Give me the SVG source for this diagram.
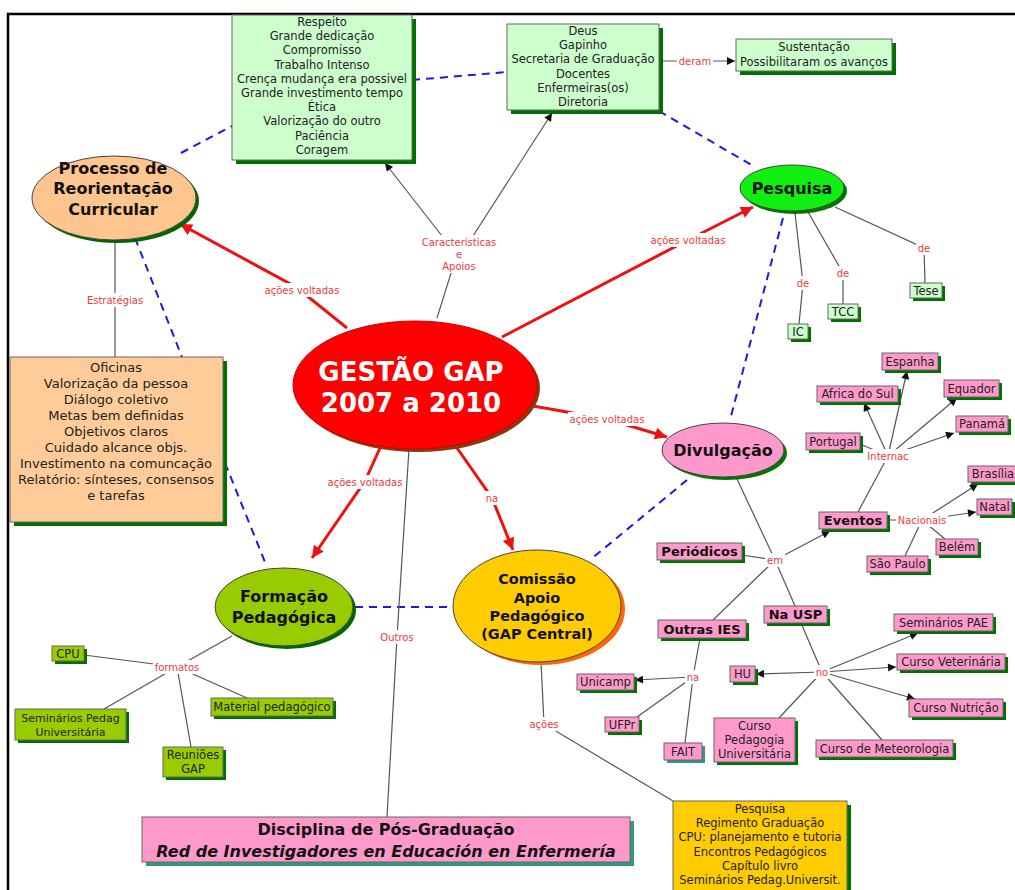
<svg xmlns="http://www.w3.org/2000/svg" width="1015" height="890" viewBox="0 0 1015 890">
<defs>
<style>
.t{font-family:"DejaVu Sans",Verdana,sans-serif;font-size:11.5px;fill:#222;text-anchor:middle;dominant-baseline:central}
.b{font-weight:bold;font-size:13px;fill:#111}
.e{font-weight:bold;font-size:16px;fill:#111}
.l{font-family:"DejaVu Sans",Verdana,sans-serif;font-size:10px;fill:#f03a3a;text-anchor:middle;dominant-baseline:central}
.k{stroke:#555;stroke-width:1.2;fill:none}
.r{stroke:#ee1111;stroke-width:3;fill:none}
.d{stroke:#1a1ae6;stroke-width:2;stroke-dasharray:8,6;fill:none}
.bg{fill:#fff}
.lg{fill:#ccffcc;stroke:#666;stroke-width:1}
.pk{fill:#ff99cc;stroke:#666;stroke-width:1}
.pe{fill:#ffcc99;stroke:#666;stroke-width:1}
.ol{fill:#99cc00;stroke:#666;stroke-width:1}
.go{fill:#ffcc00;stroke:#666;stroke-width:1}
.sg{fill:#007000}
.st{fill:#33997a}
</style>
<marker id="ab" viewBox="0 0 10 10" refX="10" refY="5" markerWidth="10" markerHeight="8" markerUnits="userSpaceOnUse" orient="auto"><path d="M0,0 L10,5 L0,10 z" fill="#111"/></marker>
<marker id="ar" viewBox="0 0 10 10" refX="10" refY="5" markerWidth="15" markerHeight="12" markerUnits="userSpaceOnUse" orient="auto"><path d="M0,0 L10,5 L0,10 z" fill="#ee1111"/></marker>
</defs>
<rect width="1015" height="890" fill="#fff"/>
<path d="M8,890 L8,14 L1015,14" stroke="#000" stroke-width="2.5" fill="none"/>

<g id="connectors">
<path class="d" d="M181,153 L232,126"/>
<path class="d" d="M412,80 L507,72"/>
<path class="d" d="M659,111 L755,167"/>
<path class="d" d="M783,218 L730,420"/>
<path class="d" d="M687,480 L590,560"/>
<path class="d" d="M355,607 L453,607"/>
<path class="d" d="M135,238 L182,357"/>
<path class="d" d="M225,463 L267,567"/>

<path class="r" d="M347,328 L296,287 L180,224" marker-end="url(#ar)"/>
<path class="r" d="M502,337 L688,240 L753,207" marker-end="url(#ar)"/>
<path class="r" d="M533,406 L607,419 L667,437" marker-end="url(#ar)"/>
<path class="r" d="M380,448 L365,481 L312,558" marker-end="url(#ar)"/>
<path class="r" d="M457,448 L492,498 L513,550" marker-end="url(#ar)"/>

<path class="k" d="M437,318 L452,270"/>
<path class="k" d="M442,236 L385,163" marker-end="url(#ab)"/>
<path class="k" d="M473,236 L552,113" marker-end="url(#ab)"/>
<path class="k" d="M659,61 L735,61" marker-end="url(#ab)"/>
<path class="k" d="M115,240 L115,357"/>
<path class="k" d="M795,213 L803,283 L799,324"/>
<path class="k" d="M808,212 L843,273 L843,304"/>
<path class="k" d="M835,207 L924,248 L925,283"/>
<path class="k" d="M737,479 L775,560 L795,606"/>
<path class="k" d="M742,555 L775,560"/>
<path class="k" d="M775,560 L830,531" marker-end="url(#ab)"/>
<path class="k" d="M775,560 L713,620"/>
<path class="k" d="M858,512 L888,456"/>
<path class="k" d="M860,444 L888,456"/>
<path class="k" d="M888,456 L864,403" marker-end="url(#ab)"/>
<path class="k" d="M888,456 L907,371" marker-end="url(#ab)"/>
<path class="k" d="M888,456 L957,398" marker-end="url(#ab)"/>
<path class="k" d="M888,456 L954,433" marker-end="url(#ab)"/>
<path class="k" d="M887,520 L922,520"/>
<path class="k" d="M922,520 L978,484" marker-end="url(#ab)"/>
<path class="k" d="M922,520 L976,512" marker-end="url(#ab)"/>
<path class="k" d="M922,520 L945,539"/>
<path class="k" d="M922,520 L905,556"/>
<path class="k" d="M700,638 L693,677 L685,743"/>
<path class="k" d="M693,677 L635,680" marker-end="url(#ab)"/>
<path class="k" d="M693,677 L637,717"/>
<path class="k" d="M801,623 L822,672"/>
<path class="k" d="M822,672 L918,633" marker-end="url(#ab)"/>
<path class="k" d="M822,672 L896,667" marker-end="url(#ab)"/>
<path class="k" d="M822,672 L915,699" marker-end="url(#ab)"/>
<path class="k" d="M822,672 L756,674" marker-end="url(#ab)"/>
<path class="k" d="M822,672 L779,718"/>
<path class="k" d="M822,672 L882,740"/>
<path class="k" d="M541,662 L544,724 L673,801"/>
<path class="k" d="M409,449 L397,637 L387,817"/>
<path class="k" d="M232,636 L177,667"/>
<path class="k" d="M84,655 L177,667"/>
<path class="k" d="M177,667 L104,709"/>
<path class="k" d="M177,667 L191,747"/>
<path class="k" d="M177,667 L247,698"/>

<rect class="bg" x="263" y="283" width="78" height="14"/><text class="l" x="302" y="290">ações voltadas</text>
<rect class="bg" x="649" y="233" width="78" height="14"/><text class="l" x="688" y="240">ações voltadas</text>
<rect class="bg" x="568" y="412" width="78" height="14"/><text class="l" x="607" y="419">ações voltadas</text>
<rect class="bg" x="326" y="475" width="78" height="14"/><text class="l" x="365" y="482">ações voltadas</text>
<rect class="bg" x="484" y="491" width="16" height="14"/><text class="l" x="492" y="498">na</text>
<rect class="bg" x="420" y="235" width="78" height="38"/><text class="l" x="459" y="242">Características</text><text class="l" x="459" y="254">e</text><text class="l" x="459" y="266">Apoios</text>
<rect class="bg" x="677" y="54" width="36" height="14"/><text class="l" x="695" y="61">deram</text>
<rect class="bg" x="85" y="293" width="60" height="14"/><text class="l" x="115" y="300">Estratégias</text>
<rect class="bg" x="795" y="276" width="16" height="14"/><text class="l" x="803" y="283">de</text>
<rect class="bg" x="835" y="266" width="16" height="14"/><text class="l" x="843" y="273">de</text>
<rect class="bg" x="916" y="241" width="16" height="14"/><text class="l" x="924" y="248">de</text>
<rect class="bg" x="765" y="553" width="20" height="14"/><text class="l" x="775" y="560">em</text>
<rect class="bg" x="865" y="449" width="46" height="14"/><text class="l" x="888" y="456">Internac</text>
<rect class="bg" x="896" y="513" width="52" height="14"/><text class="l" x="922" y="520">Nacionais</text>
<rect class="bg" x="685" y="670" width="16" height="14"/><text class="l" x="693" y="677">na</text>
<rect class="bg" x="814" y="665" width="16" height="14"/><text class="l" x="822" y="672">no</text>
<rect class="bg" x="528" y="717" width="32" height="14"/><text class="l" x="544" y="724">ações</text>
<rect class="bg" x="378" y="630" width="38" height="14"/><text class="l" x="397" y="637">Outros</text>
<rect class="bg" x="153" y="660" width="48" height="14"/><text class="l" x="177" y="667">formatos</text>
</g>

<g id="n-valores">
<rect class="sg" x="236" y="19" width="180" height="145"/>
<rect class="lg" x="232" y="15" width="180" height="145"/>
<text class="t" x="322" y="22">Respeito</text>
<text class="t" x="322" y="36.2">Grande dedicação</text>
<text class="t" x="322" y="50.4">Compromisso</text>
<text class="t" x="322" y="64.6">Trabalho Intenso</text>
<text class="t" x="322" y="78.8">Crença mudança era possivel</text>
<text class="t" x="322" y="93">Grande investimento tempo</text>
<text class="t" x="322" y="107.2">Ética</text>
<text class="t" x="322" y="121.4">Valorização do outro</text>
<text class="t" x="322" y="135.6">Paciência</text>
<text class="t" x="322" y="149.8">Coragem</text>
</g>

<g id="n-apoios">
<rect class="sg" x="511" y="28" width="152" height="86"/>
<rect class="lg" x="507" y="24" width="152" height="86"/>
<text class="t" x="583" y="31">Deus</text>
<text class="t" x="583" y="45.2">Gapinho</text>
<text class="t" x="583" y="59.4">Secretaria de Graduação</text>
<text class="t" x="583" y="73.6">Docentes</text>
<text class="t" x="583" y="87.8">Enfermeiras(os)</text>
<text class="t" x="583" y="102">Diretoria</text>
</g>

<g id="n-sustentacao">
<rect class="sg" x="740" y="43" width="156" height="32"/>
<rect class="lg" x="736" y="39" width="156" height="32"/>
<text class="t" x="814" y="47">Sustentação</text>
<text class="t" x="814" y="62">Possibilitaram os avanços</text>
</g>

<g id="n-pesquisa">
<ellipse cx="795" cy="191" rx="52" ry="23" fill="#007700"/>
<ellipse cx="792" cy="188" rx="52" ry="23" fill="#11ee11" stroke="#444" stroke-width="1"/>
<text class="t e" x="792" y="188">Pesquisa</text>
</g>

<g id="n-processo">
<ellipse cx="117" cy="201" rx="82" ry="42" fill="#006600"/>
<ellipse cx="114" cy="198" rx="82" ry="42" fill="#ffc58f" stroke="#444" stroke-width="1"/>
<text class="t e" x="113" y="168">Processo de</text>
<text class="t e" x="113" y="188">Reorientação</text>
<text class="t e" x="113" y="209">Curricular</text>
</g>

<g id="n-estrategias">
<rect class="sg" x="14" y="361" width="213" height="165"/>
<rect class="pe" x="10" y="357" width="213" height="165"/>
<text class="t" style="font-size:13px" x="116" y="367">Oficinas</text>
<text class="t" style="font-size:13px" x="116" y="383.1">Valorização da pessoa</text>
<text class="t" style="font-size:13px" x="116" y="399.2">Diálogo coletivo</text>
<text class="t" style="font-size:13px" x="116" y="415.3">Metas bem definidas</text>
<text class="t" style="font-size:13px" x="116" y="431.4">Objetivos claros</text>
<text class="t" style="font-size:13px" x="116" y="447.5">Cuidado alcance objs.</text>
<text class="t" style="font-size:13px" x="116" y="463.6">Investimento na comuncação</text>
<text class="t" style="font-size:13px" x="116" y="479.7">Relatório: sínteses, consensos</text>
<text class="t" style="font-size:13px" x="116" y="495.8">e tarefas</text>
</g>

<g id="n-gestao">
<ellipse cx="418" cy="388" rx="122" ry="64" fill="#8a3a10"/>
<ellipse cx="415" cy="385" rx="122" ry="64" fill="#ff0000" stroke="#c00" stroke-width="1"/>
<text class="t" style="font-weight:bold;font-size:26px;fill:#fff" x="411" y="372">GESTÃO GAP</text>
<text class="t" style="font-weight:bold;font-size:26px;fill:#fff" x="411" y="403">2007 a 2010</text>
</g>

<g id="n-divulgacao">
<ellipse cx="726" cy="453" rx="61" ry="27" fill="#007700"/>
<ellipse cx="723" cy="450" rx="61" ry="27" fill="#ff99cc" stroke="#444" stroke-width="1"/>
<text class="t e" x="723" y="450">Divulgação</text>
</g>

<g id="n-formacao">
<ellipse cx="287" cy="610" rx="69" ry="39" fill="#006600"/>
<ellipse cx="284" cy="607" rx="69" ry="39" fill="#99cc00" stroke="#444" stroke-width="1"/>
<text class="t e" x="284" y="596">Formação</text>
<text class="t e" x="284" y="617">Pedagógica</text>
</g>

<g id="n-comissao">
<ellipse cx="541" cy="609" rx="84" ry="56" fill="#ff6600"/>
<ellipse cx="537" cy="606" rx="84" ry="56" fill="#ffcc00" stroke="#444" stroke-width="1"/>
<text class="t e" style="font-size:14.5px" x="537" y="579">Comissão</text>
<text class="t e" style="font-size:14.5px" x="537" y="598">Apoio</text>
<text class="t e" style="font-size:14.5px" x="537" y="616">Pedagógico</text>
<text class="t e" style="font-size:14.5px" x="537" y="634">(GAP Central)</text>
</g>

<g id="n-disciplina">
<rect class="st" x="146" y="821" width="488" height="45"/>
<rect class="pk" x="142" y="817" width="488" height="45"/>
<text class="t e" x="386" y="829">Disciplina de Pós-Graduação</text>
<text class="t e" style="font-style:italic" x="386" y="851">Red de Investigadores en Educación en Enfermería</text>
</g>

<g id="n-acoes">
<rect class="sg" x="677" y="805" width="174" height="95"/>
<rect class="go" x="673" y="801" width="174" height="95"/>
<text class="t" x="760" y="809">Pesquisa</text>
<text class="t" x="760" y="823.2">Regimento Graduação</text>
<text class="t" x="760" y="837.4">CPU: planejamento e tutoria</text>
<text class="t" x="760" y="851.6">Encontros Pedagógicos</text>
<text class="t" x="760" y="865.8">Capítulo livro</text>
<text class="t" x="760" y="880">Seminários Pedag.Universit.</text>
</g>

<g id="n-ic"><rect class="sg" x="791" y="327" width="20" height="15"/><rect class="lg" x="788" y="324" width="20" height="15"/><text class="t" x="798" y="331.5">IC</text></g>
<g id="n-tcc"><rect class="sg" x="831" y="307" width="30" height="15"/><rect class="lg" x="828" y="304" width="30" height="15"/><text class="t" x="843" y="311.5">TCC</text></g>
<g id="n-tese"><rect class="sg" x="913" y="286" width="32" height="15"/><rect class="lg" x="910" y="283" width="32" height="15"/><text class="t" x="926" y="290.5">Tese</text></g>

<g id="n-periodicos"><rect class="sg" x="660" y="546" width="85" height="17"/><rect class="pk" x="657" y="543" width="85" height="17"/><text class="t b" x="699.5" y="551.5">Periódicos</text></g>
<g id="n-eventos"><rect class="sg" x="822" y="515" width="68" height="17"/><rect class="pk" x="819" y="512" width="68" height="17"/><text class="t b" x="853" y="520.5">Eventos</text></g>
<g id="n-outras"><rect class="sg" x="661" y="623" width="88" height="18"/><rect class="pk" x="658" y="620" width="88" height="18"/><text class="t b" x="702" y="629">Outras IES</text></g>
<g id="n-usp"><rect class="sg" x="767" y="609" width="63" height="17"/><rect class="pk" x="764" y="606" width="63" height="17"/><text class="t b" x="795.5" y="614.5">Na USP</text></g>

<g id="n-portugal"><rect class="sg" x="809" y="436" width="54" height="17"/><rect class="pk" x="806" y="433" width="54" height="17"/><text class="t" x="833" y="441.5">Portugal</text></g>
<g id="n-africa"><rect class="sg" x="820" y="389" width="81" height="16"/><rect class="pk" x="817" y="386" width="81" height="16"/><text class="t" x="857.5" y="394">Africa do Sul</text></g>
<g id="n-espanha"><rect class="sg" x="885" y="356" width="56" height="17"/><rect class="pk" x="882" y="353" width="56" height="17"/><text class="t" x="910" y="361.5">Espanha</text></g>
<g id="n-equador"><rect class="sg" x="947" y="383" width="55" height="17"/><rect class="pk" x="944" y="380" width="55" height="17"/><text class="t" x="971.5" y="388.5">Equador</text></g>
<g id="n-panama"><rect class="sg" x="959" y="419" width="52" height="16"/><rect class="pk" x="956" y="416" width="52" height="16"/><text class="t" x="982" y="424">Panamá</text></g>
<g id="n-brasilia"><rect class="sg" x="971" y="469" width="50" height="16"/><rect class="pk" x="968" y="466" width="50" height="16"/><text class="t" x="993" y="474">Brasília</text></g>
<g id="n-natal"><rect class="sg" x="980" y="502" width="35" height="16"/><rect class="pk" x="977" y="499" width="35" height="16"/><text class="t" x="994.5" y="507">Natal</text></g>
<g id="n-belem"><rect class="sg" x="939" y="542" width="42" height="16"/><rect class="pk" x="936" y="539" width="42" height="16"/><text class="t" x="957" y="547">Belém</text></g>
<g id="n-saopaulo"><rect class="sg" x="870" y="559" width="61" height="16"/><rect class="pk" x="867" y="556" width="61" height="16"/><text class="t" x="897.5" y="564">São Paulo</text></g>

<g id="n-unicamp"><rect class="sg" x="580" y="677" width="57" height="16"/><rect class="pk" x="577" y="674" width="57" height="16"/><text class="t" x="605.5" y="682">Unicamp</text></g>
<g id="n-ufpr"><rect class="sg" x="608" y="720" width="34" height="15"/><rect class="pk" x="605" y="717" width="34" height="15"/><text class="t" x="622" y="724.5">UFPr</text></g>
<g id="n-fait"><rect class="st" x="667" y="746" width="38" height="17"/><rect class="pk" x="664" y="743" width="38" height="17"/><text class="t" x="683" y="751.5">FAIT</text></g>
<g id="n-hu"><rect class="sg" x="733" y="669" width="25" height="16"/><rect class="pk" x="730" y="666" width="25" height="16"/><text class="t" x="742.5" y="674">HU</text></g>
<g id="n-pae"><rect class="sg" x="897" y="617" width="99" height="17"/><rect class="pk" x="894" y="614" width="99" height="17"/><text class="t" x="943.5" y="622.5">Seminários PAE</text></g>
<g id="n-vet"><rect class="sg" x="900" y="657" width="108" height="16"/><rect class="pk" x="897" y="654" width="108" height="16"/><text class="t" x="951" y="662">Curso Veterinária</text></g>
<g id="n-nutricao"><rect class="sg" x="912" y="702" width="94" height="18"/><rect class="pk" x="909" y="699" width="94" height="18"/><text class="t" x="956" y="708">Curso Nutrição</text></g>
<g id="n-pedagogia"><rect class="sg" x="717" y="721" width="81" height="44"/><rect class="pk" x="714" y="718" width="81" height="44"/><text class="t" x="754.5" y="726">Curso</text><text class="t" x="754.5" y="740">Pedagogia</text><text class="t" x="754.5" y="754">Universitária</text></g>
<g id="n-meteo"><rect class="sg" x="819" y="743" width="137" height="17"/><rect class="pk" x="816" y="740" width="137" height="17"/><text class="t" x="884.5" y="748.5">Curso de Meteorologia</text></g>

<g id="n-cpu"><rect class="sg" x="55" y="649" width="32" height="15"/><rect class="ol" x="52" y="646" width="32" height="15"/><text class="t" x="68" y="653.5">CPU</text></g>
<g id="n-sempedag"><rect class="sg" x="18" y="712" width="111" height="31"/><rect class="ol" x="15" y="709" width="111" height="31"/><text class="t" style="font-size:11px" x="70.5" y="718">Seminários Pedag</text><text class="t" style="font-size:11px" x="70.5" y="732">Universitária</text></g>
<g id="n-reunioes"><rect class="sg" x="166" y="750" width="60" height="30"/><rect class="ol" x="163" y="747" width="60" height="30"/><text class="t" x="193" y="755">Reuniões</text><text class="t" x="193" y="769">GAP</text></g>
<g id="n-material"><rect class="sg" x="214" y="701" width="122" height="18"/><rect class="ol" x="211" y="698" width="122" height="18"/><text class="t" x="272" y="707">Material pedagógico</text></g>
</svg>
